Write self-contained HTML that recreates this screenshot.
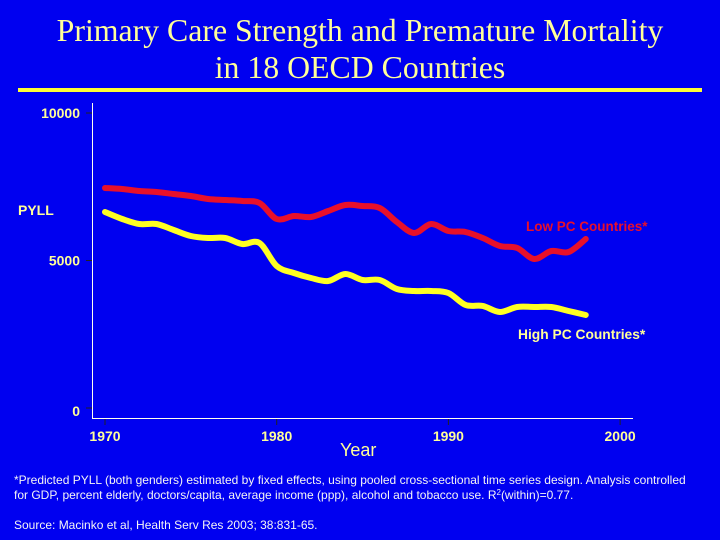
<!DOCTYPE html>
<html><head><meta charset="utf-8"><style>
body{margin:0;background:#0000F0;}
svg{display:block;}
.t{font-family:"Liberation Serif",serif;fill:#FFFF99;font-size:31.8px;}
.l{font-family:"Liberation Sans",sans-serif;font-weight:bold;fill:#FFFF99;font-size:14px;}
.f{font-family:"Liberation Sans",sans-serif;fill:#F4F4F4;font-size:12px;}
</style></head><body>
<svg id="c" width="720" height="540" viewBox="0 0 720 540">
<rect width="720" height="540" fill="#0000F0"/>
<text class="t" x="360" y="41" text-anchor="middle">Primary Care Strength and Premature Mortality</text>
<text class="t" x="360" y="78" text-anchor="middle">in 18 OECD Countries</text>
<rect x="18" y="88" width="684" height="4" fill="#FFFF33"/>
<line x1="92.5" y1="103" x2="92.5" y2="418.5" stroke="#FFFFEE" stroke-width="1"/>
<line x1="92" y1="418.5" x2="633" y2="418.5" stroke="#FFFFEE" stroke-width="1"/>
<g id="ticks"></g>
<text class="l" x="18" y="215">PYLL</text>
<text class="l" x="340" y="456" style="font-weight:normal;font-size:18px">Year</text>
<g id="lines"></g>
<text class="l" x="526" y="231" style="fill:#E8102A;font-size:13.5px">Low PC Countries*</text>
<text class="l" x="518" y="339" style="font-size:13.8px">High PC Countries*</text>
<text class="f" x="14" y="484">*Predicted PYLL (both genders) estimated by fixed effects, using pooled cross-sectional time series design.  Analysis controlled</text>
<text class="f" x="14" y="499">for GDP, percent elderly, doctors/capita, average income (ppp), alcohol and tobacco use.   R<tspan font-size="8" dy="-4">2</tspan><tspan dy="4">(within)=0.77.</tspan></text>
<text class="f" x="14" y="529">Source: Macinko et al, Health Serv Res 2003; 38:831-65.</text>
</svg>
<script>
const years=[1970,1971,1972,1973,1974,1975,1976,1977,1978,1979,1980,1981,1982,1983,1984,1985,1986,1987,1988,1989,1990,1991,1992,1993,1994,1995,1996,1997,1998];
const lowPC=[7458,7424,7356,7322,7254,7186,7085,7051,7017,6949,6407,6508,6475,6678,6881,6847,6780,6305,5932,6237,6000,5966,5763,5492,5424,5051,5322,5288,5729];
const highPC=[6644,6407,6237,6237,6034,5831,5763,5763,5559,5593,4814,4576,4407,4305,4542,4339,4339,4034,3966,3966,3898,3492,3458,3254,3424,3424,3424,3288,3153];
const yTicks=[0,5000,10000];
const xTicks=[1970,1980,1990,2000];
const X=y=>105+(y-1970)*17.17;
const Y=v=>408-v*0.0295;
const NS="http://www.w3.org/2000/svg";
const tg=document.getElementById('ticks');
yTicks.forEach(v=>{
 const l=document.createElementNS(NS,'line');
 l.setAttribute('x1',86);l.setAttribute('x2',92);l.setAttribute('y1',Y(v));l.setAttribute('y2',Y(v));l.setAttribute('stroke','#222');
 
 
 tg.appendChild(l);
 const t=document.createElementNS(NS,'text');
 t.setAttribute('class','l');t.setAttribute('x',80);t.setAttribute('y',Y(v)+5+(v===0?3:0));t.setAttribute('text-anchor','end');
 t.textContent=v;
 
 
 tg.appendChild(t);
});
xTicks.forEach(v=>{
 const l=document.createElementNS(NS,'line');
 l.setAttribute('x1',X(v));l.setAttribute('x2',X(v));l.setAttribute('y1',419);l.setAttribute('y2',425);l.setAttribute('stroke','#222');
 
 
 tg.appendChild(l);
 const t=document.createElementNS(NS,'text');
 t.setAttribute('class','l');t.setAttribute('x',X(v));t.setAttribute('y',441);t.setAttribute('text-anchor','middle');
 t.textContent=v;
 
 
 tg.appendChild(t);
});
function path(vals){
 const p=vals.map((v,i)=>[X(years[i]),Y(v)]);
 let d='M'+p[0][0]+','+p[0][1];
 for(let i=0;i<p.length-1;i++){
  const p0=p[i-1]||p[i],p1=p[i],p2=p[i+1],p3=p[i+2]||p2;
  const c1=[p1[0]+(p2[0]-p0[0])/6,p1[1]+(p2[1]-p0[1])/6];
  const c2=[p2[0]-(p3[0]-p1[0])/6,p2[1]-(p3[1]-p1[1])/6];
  d+=' C'+c1+' '+c2+' '+p2;
 }
 return d;
}
const lg=document.getElementById('lines');
[[lowPC,'#E8102A','low-pc-line'],[highPC,'#FFFF22','high-pc-line']].forEach(s=>{
 const el=document.createElementNS(NS,'path');
 el.setAttribute('d',path(s[0]));el.setAttribute('fill','none');el.setAttribute('stroke',s[1]);
 el.setAttribute('stroke-width',6);el.setAttribute('stroke-linecap','round');el.setAttribute('stroke-linejoin','round');
 
 
 lg.appendChild(el);
});
</script>
</body></html>
